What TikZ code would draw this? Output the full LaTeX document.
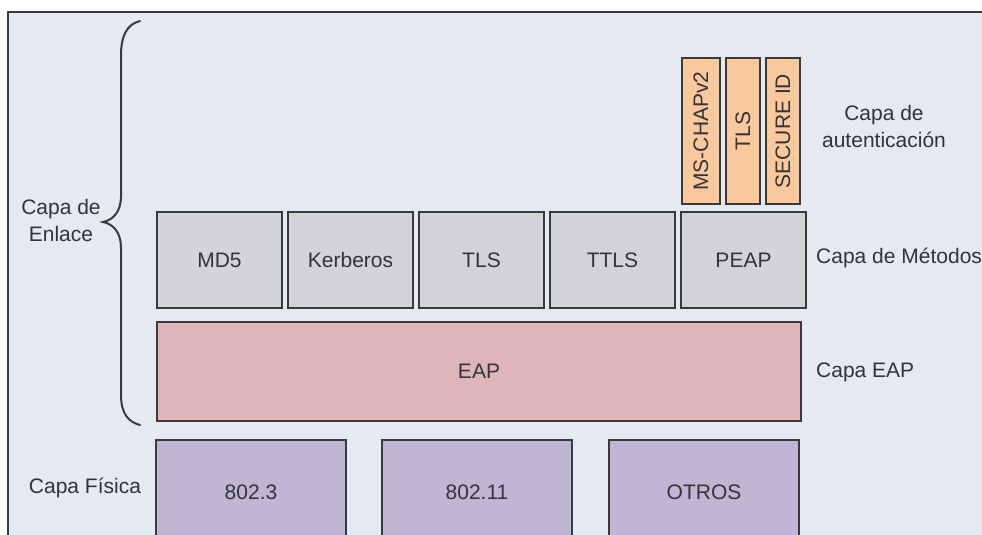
\documentclass[tikz,border=0pt]{standalone}
\usepackage{fontspec}
\setmainfont{Liberation Sans}
\definecolor{bgc}{HTML}{E4E9F2}
\definecolor{greyc}{HTML}{D3D4D7}
\definecolor{eapc}{HTML}{DFB6B8}
\definecolor{physc}{HTML}{BFB6D3}
\definecolor{orangec}{HTML}{F9C89C}
\definecolor{edgec}{HTML}{3A3A3A}
\definecolor{txtc}{HTML}{333338}
\begin{document}
\begin{tikzpicture}[x=1pt,y=-1pt,
  every node/.style={font=\fontsize{21}{27}\selectfont, text=txtc},
  layerbox/.style={draw=edgec, line width=1.6pt, inner sep=0pt, outer sep=0pt, anchor=north west},
  meth/.style={layerbox, fill=greyc, minimum width=125pt, minimum height=96pt},
  phys/.style={layerbox, fill=physc, minimum width=190pt, minimum height=100pt},
  auth/.style={layerbox, fill=orangec, minimum height=146pt},
  lbl/.style={inner sep=0pt, align=center}]
\useasboundingbox (0,0) rectangle (982,535);
\clip (0,0) rectangle (982,535);
\fill[white] (0,0) rectangle (982,535);
\fill[bgc] (8,12) rectangle (982,535);
\draw[edgec, line width=2pt] (8,540) -- (8,12) -- (985,12);
% brace
\draw[edgec, line width=2pt, line cap=round]
  (140,21) .. controls (127,24) and (121,36) .. (121,55) -- (121,196)
  .. controls (121,212) and (113,220) .. (103,222)
  .. controls (113,224) and (121,232) .. (121,248) -- (121,395)
  .. controls (121,413) and (128,422) .. (140,425);
% authentication methods
\node[auth, minimum width=38pt] (mschap) at (682,58) {};
\node[auth, minimum width=34pt] (tlsa) at (726,58) {};
\node[auth, minimum width=34pt] (secid) at (766,58) {};
\node[lbl, rotate=90] at (mschap.center) {MS-CHAPv2};
\node[lbl, rotate=90] at (tlsa.center) {TLS};
\node[lbl, rotate=90] at (secid.center) {SECURE ID};
% methods layer
\node[meth] (md5) at (157,212) {};
\node[meth] (kerb) at (288,212) {};
\node[meth] (tls) at (419,212) {};
\node[meth] (ttls) at (550,212) {};
\node[meth] (peap) at (681,212) {};
\node[lbl] at (md5.center) {MD5};
\node[lbl] at (kerb.center) {Kerberos};
\node[lbl] at (tls.center) {TLS};
\node[lbl] at (ttls.center) {TTLS};
\node[lbl] at (peap.center) {PEAP};
% EAP layer
\node[layerbox, fill=eapc, minimum width=644pt, minimum height=99pt] (eap) at (157,322) {};
\node[lbl] at (eap.center) {EAP};
% physical layer
\node[phys] (e8023) at (156,440) {};
\node[phys] (e80211) at (382,440) {};
\node[phys] (otros) at (609,440) {};
\node[lbl] at ([yshift=-2pt]e8023.center) {802.3};
\node[lbl] at ([yshift=-2pt]e80211.center) {802.11};
\node[lbl] at ([yshift=-2pt]otros.center) {OTROS};
% layer labels
\node[lbl] (lauth) at (884,126) {Capa de\\autenticación};
\node[lbl, anchor=west] (lmeth) at (816,258) {Capa de Métodos};
\node[lbl, anchor=west] (leap) at (816,372) {Capa EAP};
\node[lbl] (lfis) at (85,488) {Capa Física};
\node[lbl] (lenl) at (61,220) {Capa de\\Enlace};
\end{tikzpicture}
\end{document}
